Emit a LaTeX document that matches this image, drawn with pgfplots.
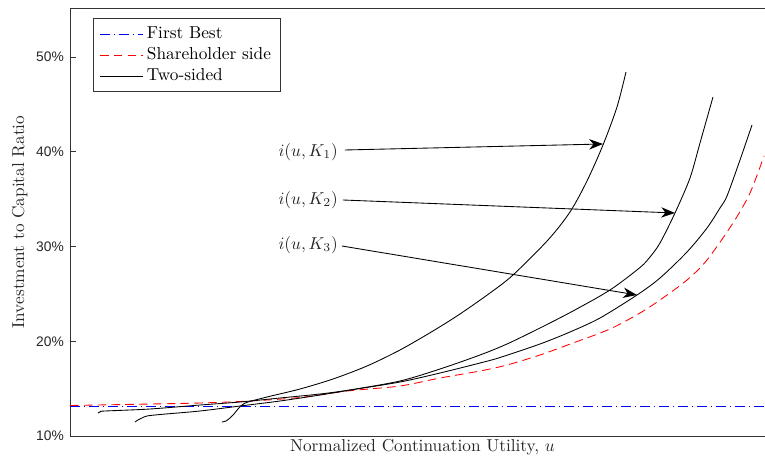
\documentclass[border=0pt]{standalone}
\usepackage{fontspec}
\usepackage{pgfplots}
\pgfplotsset{compat=1.18}
\usetikzlibrary{arrows.meta}
\newfontfamily\ticksf{Liberation Sans}
\begin{document}
\begin{tikzpicture}
\begin{axis}[
  scale only axis,
  width=402.4pt, height=247.8pt,
  xmin=70, xmax=765, ymin=10, ymax=55.17,
  axis x line=box, axis y line=left,
  axis line style={-, black!80, line width=0.5pt},
  xtick=\empty,
  ytick={10,20,30,40,50},
  yticklabels={10\%,20\%,30\%,40\%,50\%},
  yticklabel style={font=\ticksf\fontsize{8}{9}\selectfont, text=black!85},
  tick style={black!80, line width=0.5pt},
  tick align=inside,
  major tick length=3.5pt,
  xlabel={Normalized Continuation Utility, $u$},
  ylabel={Investment to Capital Ratio},
  x label style={at={(axis description cs:0.5072,-0.0351)}, anchor=base, text=black!85},
  y label style={at={(axis description cs:-0.0661,0.5)}, anchor=base, text=black!85},
  legend style={at={(rel axis cs:0.0331,0.9766)}, anchor=north west, draw=black!80, line width=0.5pt,
    font=\fontsize{10}{12}\selectfont, inner xsep=3.5pt, inner ysep=3pt, row sep=-0.4pt},
  legend cell align=left,
  legend image code/.code={\draw[#1] (0pt,0pt) -- (25pt,0pt);},
]
\addlegendimage{draw=blue, line width=0.5pt, dash pattern=on 6pt off 2pt on 1pt off 2pt}
\addlegendentry{First Best}
\addlegendimage{draw=red, line width=0.5pt, dash pattern=on 5pt off 3pt}
\addlegendentry{Shareholder side}
\addlegendimage{draw=black, line width=0.5pt}
\addlegendentry{Two-sided}
\addplot[forget plot, draw=blue, line width=0.5pt, dash pattern=on 6pt off 2pt on 1pt off 2pt] coordinates {(70,13.17) (765,13.17)};
\addplot[forget plot, draw=red, line width=0.5pt, dash pattern=on 5pt off 3pt, smooth, tension=0.5] coordinates {
(70,13.219) (150,13.377) (200,13.483) (250,13.694) (300,14.065) (347,14.749)
(400,15.277) (440,16.121) (480,16.860) (507,17.493) (540,18.549) (573,19.815) (610,21.293)
(640,22.982) (660,24.354) (687,26.464) (707,28.575) (733,32.480) (750,35.646) (764,39.551)};
\addplot[forget plot, draw=black, line width=0.5pt, smooth, tension=0.5] coordinates {
(222,11.478) (226,11.583) (230,11.900) (234,12.322) (238,12.850) (242,13.272) (248,13.588)
(267,14.116) (300,14.960) (333,16.016) (367,17.388) (400,19.077) (433,21.082) (460,22.876)
(490,25.092) (513,26.992) (548,30.686) (570,33.641) (587,36.913) (603,40.712) (617,44.723) (626,48.417)};
\addplot[forget plot, draw=black, line width=0.5pt, smooth, tension=0.5] coordinates {
(135,11.478) (138,11.689) (142,11.900) (147,12.111) (160,12.269) (200,12.639) (240,13.166)
(280,13.694) (320,14.327) (350,14.855) (400,15.805) (440,17.071) (480,18.549) (507,19.710)
(540,21.398) (573,23.193) (610,25.409) (640,27.784) (650,28.892) (660,30.369) (675,33.536) (690,37.230)
(700,40.923) (713,45.778)};
\addplot[forget plot, draw=black, line width=0.5pt, smooth, tension=0.5] coordinates {
(98,12.427) (101,12.586) (105,12.639) (150,12.850) (200,13.272) (240,13.588) (280,14.011)
(320,14.433) (350,14.855) (400,15.699) (440,16.649) (480,17.704) (500,18.285) (540,19.710)
(570,20.976) (600,22.454) (637,24.881) (660,26.675) (687,29.420) (707,31.953) (720,34.063)
(727,35.330) (740,39.129) (752,42.823)};
\node[anchor=east, text=black!85] at (axis cs:344,39.97) {$i(u,K_1)$};
\node[anchor=east, text=black!85] at (axis cs:344,34.91) {$i(u,K_2)$};
\node[anchor=east, text=black!85] at (axis cs:344,30.16) {$i(u,K_3)$};
\draw[-{Stealth[length=8pt,width=6pt,inset=2.5pt]}, line width=0.5pt] (axis cs:345,40.185) -- (axis cs:603,40.818);
\draw[-{Stealth[length=8pt,width=6pt,inset=2.5pt]}, line width=0.5pt] (axis cs:343,34.907) -- (axis cs:675,33.536);
\draw[-{Stealth[length=8pt,width=6pt,inset=2.5pt]}, line width=0.5pt] (axis cs:342,30.053) -- (axis cs:637,24.881);
\coordinate (sw) at (rel axis cs:0,0);
\coordinate (ne) at (rel axis cs:1,1);
\end{axis}
\pgfresetboundingbox
\path[use as bounding box] ([xshift=-40.5pt,yshift=-13.9pt]sw) rectangle ([yshift=4.63pt]ne);
\end{tikzpicture}
\end{document}
